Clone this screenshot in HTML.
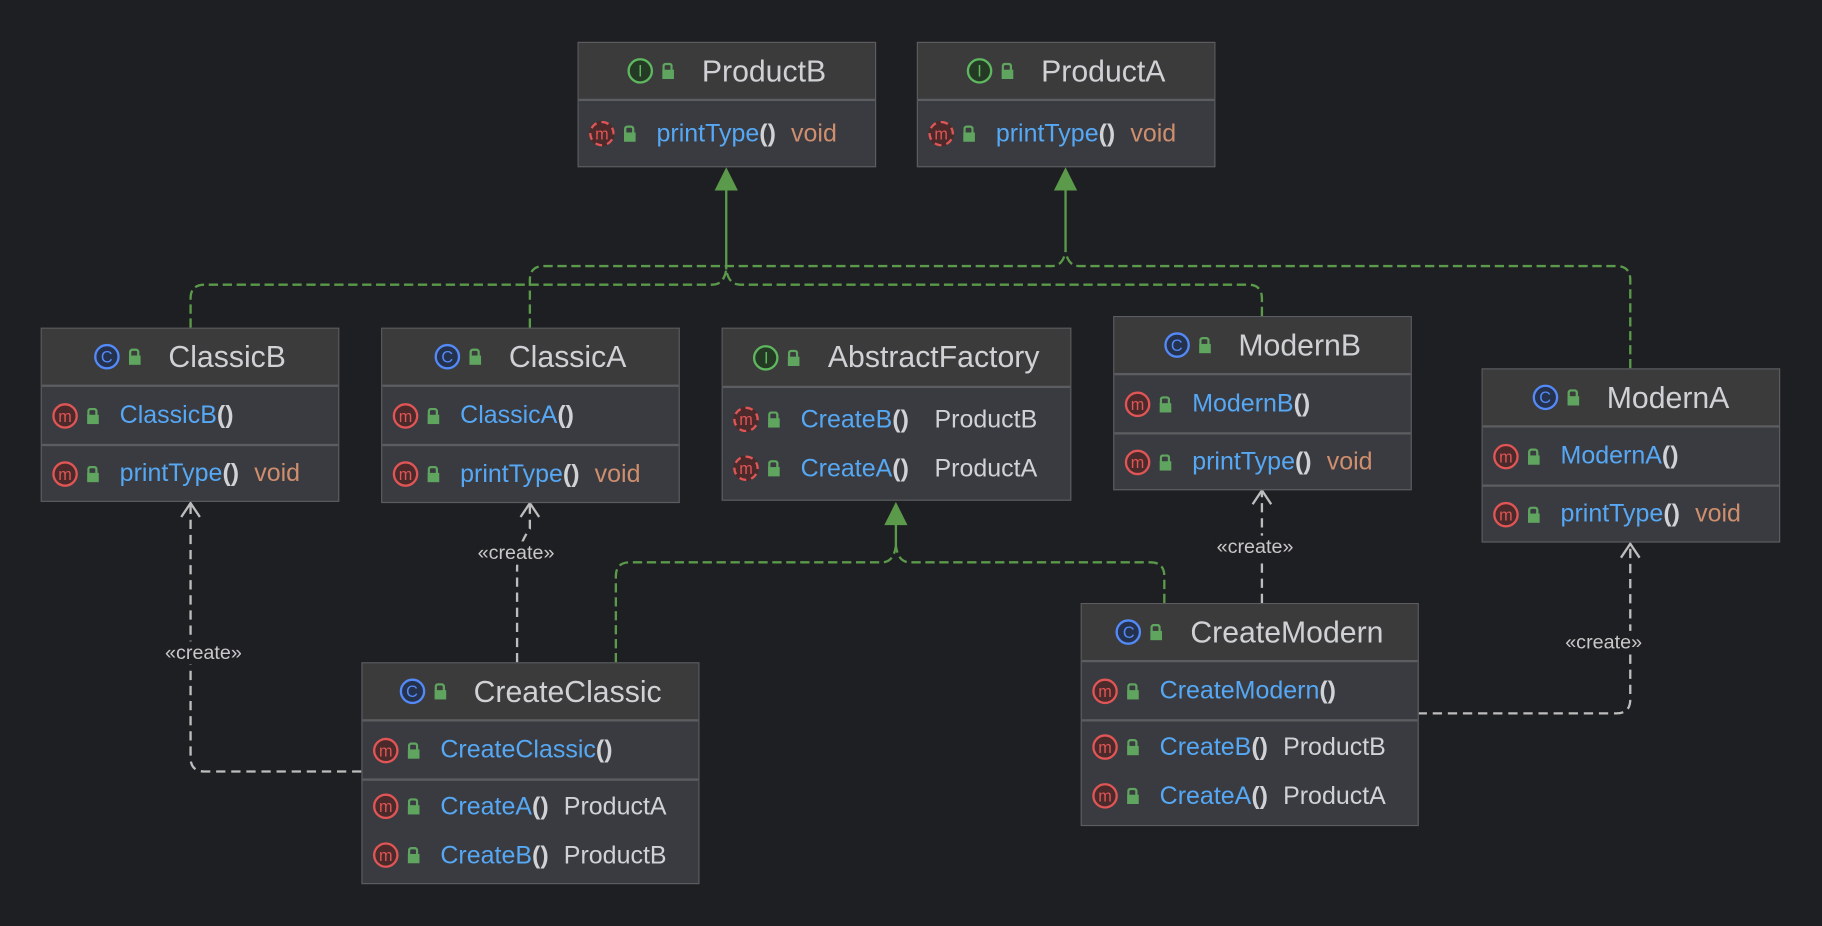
<!DOCTYPE html>
<html><head><meta charset="utf-8"><style>
html,body{margin:0;padding:0;background:#1e1f22;overflow:hidden;}
#w{position:absolute;left:0;top:0;width:1568px;height:797px;transform:scale(1.16199,1.16186);transform-origin:0 0;font-family:"Liberation Sans","DejaVu Sans",sans-serif;}
.n{position:absolute;border:1px solid #5c5d60;background:#393b40;box-sizing:border-box;}
.h{background:#3b3b3c;border-bottom:2px solid #5c5d60;box-sizing:border-box;color:#cfd1d4;font-size:26px;display:flex;align-items:center;justify-content:center;}
.g{display:flex;align-items:center;margin-right:24px}
.s{border-bottom:2px solid #5c5d60;box-sizing:border-box;}
.s:last-child{border-bottom:none}
.r{height:42px;display:flex;align-items:center;padding-left:9px;font-size:21.5px;color:#d0d2d5;white-space:pre;}
.m{color:#56a8f5}.b{color:#d0d2d5;font-weight:bold}.v{color:#cf8e6d;margin-left:13px}.t{margin-left:13px}
.ic{display:inline-block;width:22px;height:22px;border-radius:50%;border:2px solid;box-sizing:border-box;font-size:14px;line-height:18px;text-align:center;margin-right:8px;}
.ci{border-color:#548af7;color:#548af7;background:#25324d}
.ii{border-color:#5fb85f;color:#5fb85f;background:#253a25}
.mi{border-color:#e05555;color:#e05555;background:#4a2a2a}
.ma{border-color:#e05555;color:#e05555;background:#4a2a2a;border-style:dashed}
.lk{display:inline-block;width:10px;height:8px;background:#5fa55f;margin-right:18px;position:relative;top:3px}
.h .lk{margin-right:0}
.lk:before{content:"";position:absolute;left:0px;top:-6px;width:5px;height:5px;border:2px solid #5fa55f;border-bottom:none;border-radius:3px 3px 0 0}
.lbl{position:absolute;color:#c8c8c8;font-size:17px;background:#1e1f22;padding:0 1px}
</style></head><body><div id="w">
<svg width="1568" height="797" style="position:absolute;left:0;top:0">
<g fill="none" stroke="#5a9a4a" stroke-width="2" stroke-dasharray="8,4">
<path d="M164 282 V257 Q164 245 176 245 H613 Q623 245 625 232"/>
<path d="M1086 272 V257 Q1086 245 1074 245 H637 Q627 245 625 232"/>
<path d="M456 282 V241 Q456 229 468 229 H905 Q915 229 917 216"/>
<path d="M1403 317 V241 Q1403 229 1391 229 H929 Q919 229 917 216"/>
<path d="M530 570 V496 Q530 484 542 484 H759 Q769 484 771 470"/>
<path d="M1002 519 V496 Q1002 484 990 484 H783 Q773 484 771 470"/>
</g>
<g stroke="#5a9a4a" stroke-width="2"><line x1="625" y1="232" x2="625" y2="160"/><line x1="917" y1="216" x2="917" y2="160"/><line x1="771" y1="470" x2="771" y2="448"/></g>
<g fill="#5a9a4a"><path d="M625 144 L615 164 H635Z"/><path d="M917 144 L907 164 H927Z"/><path d="M771 432 L761 452 H781Z"/></g>
<g fill="none" stroke="#bdbdbd" stroke-width="2" stroke-dasharray="8,5">
<path d="M311 664 H176 Q164 664 164 652 V434"/>
<path d="M445 570 V490 Q445 470 456 455 V434"/>
<path d="M1086 519 V423"/>
<path d="M1220 614 H1391 Q1403 614 1403 602 V469"/>
</g>
<g fill="none" stroke="#bdbdbd" stroke-width="2">
<path d="M156 445 L164 433 L172 445"/><path d="M448 445 L456 433 L464 445"/><path d="M1078 434 L1086 422 L1094 434"/><path d="M1395 480 L1403 468 L1411 480"/>
</g>
</svg>
<div class="lbl" style="left:141px;top:552px">«create»</div>
<div class="lbl" style="left:410px;top:466px">«create»</div>
<div class="lbl" style="left:1046px;top:461px">«create»</div>
<div class="lbl" style="left:1346px;top:543px">«create»</div>

<div class="n" style="left:497px;top:36px;width:257px;height:108px"><div class="h" style="height:50px"><span class="g"><span class="ic ii">I</span><span class="lk"></span></span>ProductB</div><div class="s"><div class="r" style="height:56px"><span class="ic ma">m</span><span class="lk"></span><span class="m">printType</span><span class="b">()</span><span class="v">void</span></div></div></div>
<div class="n" style="left:789px;top:36px;width:257px;height:108px"><div class="h" style="height:50px"><span class="g"><span class="ic ii">I</span><span class="lk"></span></span>ProductA</div><div class="s"><div class="r" style="height:56px"><span class="ic ma">m</span><span class="lk"></span><span class="m">printType</span><span class="b">()</span><span class="v">void</span></div></div></div>

<div class="n" style="left:35px;top:282px;width:257px;height:150px"><div class="h" style="height:50px"><span class="g"><span class="ic ci">C</span><span class="lk"></span></span>ClassicB</div><div class="s"><div class="r" style="height:49px"><span class="ic mi">m</span><span class="lk"></span><span class="m">ClassicB</span><span class="b">()</span></div></div><div class="s"><div class="r" style="height:47px"><span class="ic mi">m</span><span class="lk"></span><span class="m">printType</span><span class="b">()</span><span class="v">void</span></div></div></div>
<div class="n" style="left:328px;top:282px;width:257px;height:151px"><div class="h" style="height:50px"><span class="g"><span class="ic ci">C</span><span class="lk"></span></span>ClassicA</div><div class="s"><div class="r" style="height:49px"><span class="ic mi">m</span><span class="lk"></span><span class="m">ClassicA</span><span class="b">()</span></div></div><div class="s"><div class="r" style="height:48px"><span class="ic mi">m</span><span class="lk"></span><span class="m">printType</span><span class="b">()</span><span class="v">void</span></div></div></div>
<div class="n" style="left:621px;top:282px;width:301px;height:149px"><div class="h" style="height:51px"><span class="g"><span class="ic ii">I</span><span class="lk"></span></span>AbstractFactory</div><div class="s" style="padding-top:6px"><div class="r"><span class="ic ma">m</span><span class="lk"></span><span class="m">CreateB</span><span class="b">()</span><span class="t" style="margin-left:22px">ProductB</span></div><div class="r"><span class="ic ma">m</span><span class="lk"></span><span class="m">CreateA</span><span class="b">()</span><span class="t" style="margin-left:22px">ProductA</span></div></div></div>
<div class="n" style="left:958px;top:272px;width:257px;height:150px"><div class="h" style="height:50px"><span class="g"><span class="ic ci">C</span><span class="lk"></span></span>ModernB</div><div class="s"><div class="r" style="height:49px"><span class="ic mi">m</span><span class="lk"></span><span class="m">ModernB</span><span class="b">()</span></div></div><div class="s"><div class="r" style="height:47px"><span class="ic mi">m</span><span class="lk"></span><span class="m">printType</span><span class="b">()</span><span class="v">void</span></div></div></div>
<div class="n" style="left:1275px;top:317px;width:257px;height:150px"><div class="h" style="height:50px"><span class="g"><span class="ic ci">C</span><span class="lk"></span></span>ModernA</div><div class="s"><div class="r" style="height:49px"><span class="ic mi">m</span><span class="lk"></span><span class="m">ModernA</span><span class="b">()</span></div></div><div class="s"><div class="r" style="height:47px"><span class="ic mi">m</span><span class="lk"></span><span class="m">printType</span><span class="b">()</span><span class="v">void</span></div></div></div>

<div class="n" style="left:311px;top:570px;width:291px;height:191px"><div class="h" style="height:50px"><span class="g"><span class="ic ci">C</span><span class="lk"></span></span>CreateClassic</div><div class="s"><div class="r" style="height:49px"><span class="ic mi">m</span><span class="lk"></span><span class="m">CreateClassic</span><span class="b">()</span></div></div><div class="s" style="padding-top:1px"><div class="r"><span class="ic mi">m</span><span class="lk"></span><span class="m">CreateA</span><span class="b">()</span><span class="t">ProductA</span></div><div class="r"><span class="ic mi">m</span><span class="lk"></span><span class="m">CreateB</span><span class="b">()</span><span class="t">ProductB</span></div></div></div>
<div class="n" style="left:930px;top:519px;width:291px;height:192px"><div class="h" style="height:50px"><span class="g"><span class="ic ci">C</span><span class="lk"></span></span>CreateModern</div><div class="s"><div class="r" style="height:49px"><span class="ic mi">m</span><span class="lk"></span><span class="m">CreateModern</span><span class="b">()</span></div></div><div class="s" style="padding-top:1px"><div class="r"><span class="ic mi">m</span><span class="lk"></span><span class="m">CreateB</span><span class="b">()</span><span class="t">ProductB</span></div><div class="r"><span class="ic mi">m</span><span class="lk"></span><span class="m">CreateA</span><span class="b">()</span><span class="t">ProductA</span></div></div></div>
</div></body></html>
